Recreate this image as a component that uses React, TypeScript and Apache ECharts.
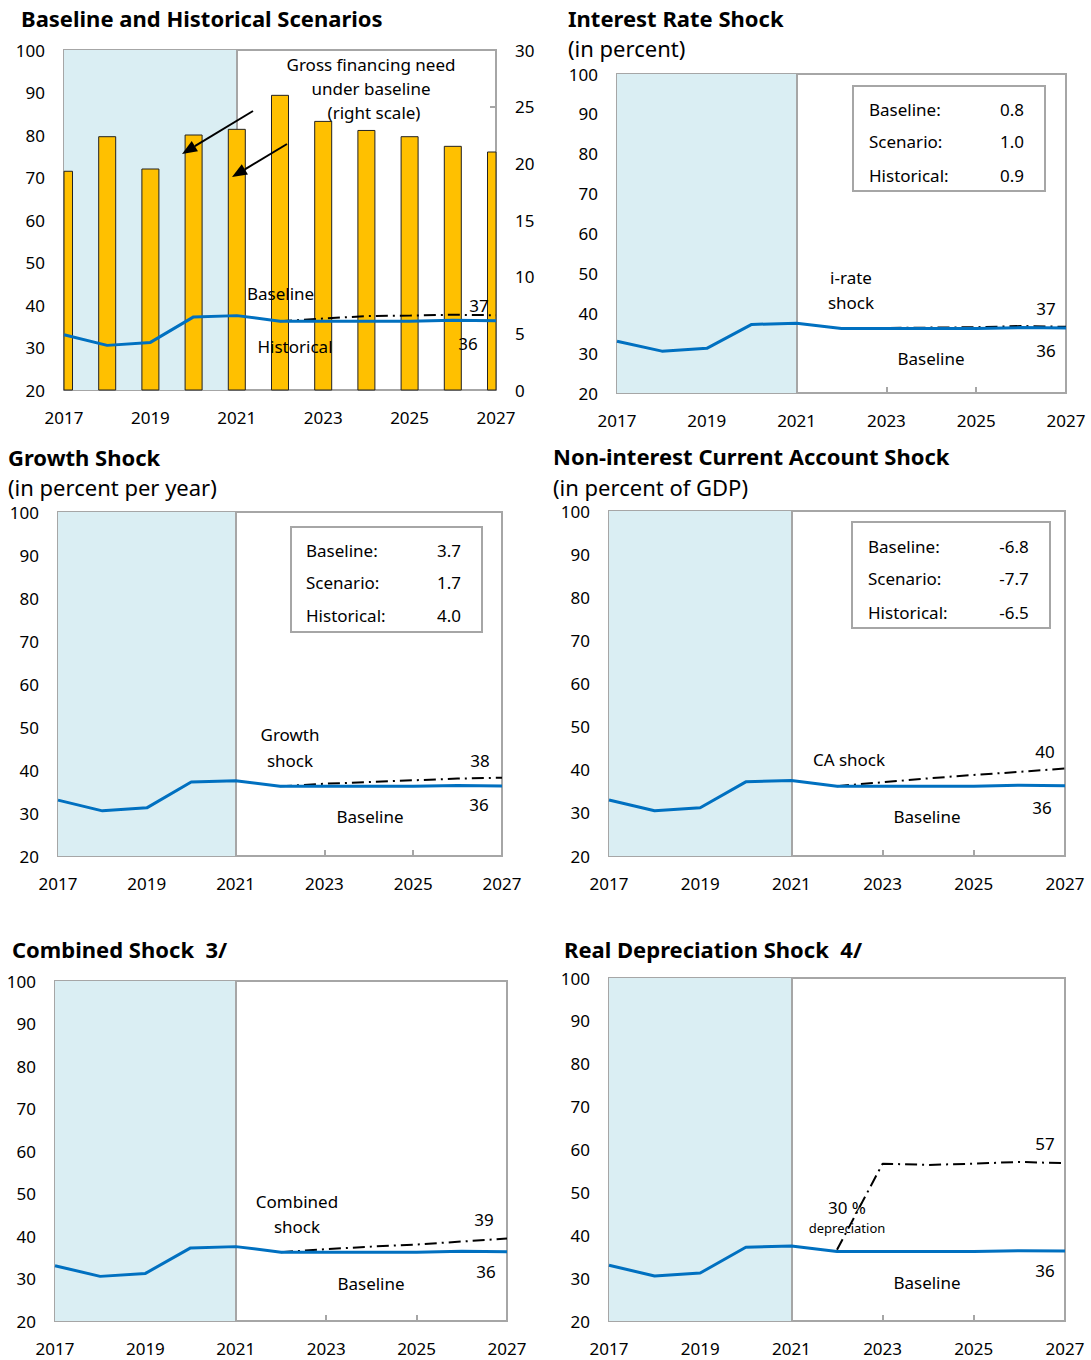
import React, { useEffect, useRef } from "react";
import * as echarts from "echarts";

// ---------------- DATA ----------------
const years = [2017, 2018, 2019, 2020, 2021, 2022, 2023, 2024, 2025, 2026, 2027];
const baseline = [33.0, 30.5, 31.2, 37.2, 37.5, 36.2, 36.2, 36.2, 36.2, 36.4, 36.3];
const grossFinancingNeed = [19.3, 22.35, 19.5, 22.5, 23.0, 26.0, 23.7, 22.9, 22.35, 21.5, 21.0];

const projYears = [2022, 2023, 2024, 2025, 2026, 2027];
const historical = [36.2, 36.8, 37.4, 37.5, 37.7, 37.6];
const irateShock = [36.2, 36.3, 36.4, 36.5, 36.8, 36.6];
const growthShock = [36.2, 36.8, 37.2, 37.6, 38.0, 38.2];
const caShock = [36.2, 37.1, 38.0, 38.8, 39.5, 40.3];
const combinedShock = [36.2, 36.9, 37.5, 38.0, 38.7, 39.4];
const deprShock = [36.6, 56.7, 56.4, 56.7, 57.1, 56.8];

const shadeFrom = 2017;
const shadeTo = 2021;

const yTicks = { min: 20, max: 100, interval: 10 };
const yRightTicks = { min: 0, max: 30, interval: 5 };
const xTicks = { min: 2017, max: 2027, interval: 2 };

const irateBox = [["Baseline:", "0.8"], ["Scenario:", "1.0"], ["Historical:", "0.9"]];
const growthBox = [["Baseline:", "3.7"], ["Scenario:", "1.7"], ["Historical:", "4.0"]];
const caBox = [["Baseline:", "-6.8"], ["Scenario:", "-7.7"], ["Historical:", "-6.5"]];

// ---------------- STYLE / LAYOUT ----------------
const FONT = '"Noto Sans", "DejaVu Sans", sans-serif';
const GRAY = "#A6A6A6";
const BLUE = "#0070C0";
const SHADE = "#DAEEF3";
const BAR = "#FFC000";
const BAR_W = 17;

const panels = [
  { grid: { left: 64, top: 50, width: 432, height: 340 }, shock: historical },
  { grid: { left: 617, top: 74, width: 449, height: 319 }, shock: irateShock },
  { grid: { left: 58, top: 512, width: 444, height: 344 }, shock: growthShock },
  { grid: { left: 609, top: 511, width: 456, height: 345 }, shock: caShock },
  { grid: { left: 55, top: 981, width: 452, height: 340 }, shock: combinedShock },
  { grid: { left: 609, top: 978, width: 456, height: 343 }, shock: deprShock },
];

function txt(text: string, x: number, y: number, o: any = {}) {
  return {
    type: "text",
    x,
    y,
    z: 50,
    silent: true,
    style: {
      text,
      fill: "#000",
      fontFamily: FONT,
      fontSize: o.size || 17,
      fontWeight: o.bold ? "bold" : "normal",
      align: o.align || "center",
      textAlign: o.align || "center",
      verticalAlign: "middle",
      textVerticalAlign: "middle",
    },
  };
}

function arrow(x1: number, y1: number, x2: number, y2: number) {
  const dx = x2 - x1, dy = y2 - y1;
  const len = Math.sqrt(dx * dx + dy * dy);
  const ux = dx / len, uy = dy / len;
  const px = -uy, py = ux;
  const hl = 15, hw = 6;
  const bx = x2 - ux * hl, by = y2 - uy * hl;
  return [
    { type: "line", z: 40, silent: true, shape: { x1, y1, x2: bx, y2: by }, style: { stroke: "#000", lineWidth: 2 } },
    {
      type: "polygon", z: 40, silent: true,
      shape: { points: [[x2, y2], [bx + px * hw, by + py * hw], [bx - px * hw, by - py * hw]] },
      style: { fill: "#000" },
    },
  ];
}

function box(x: number, y: number, w: number, h: number, rows: string[][], lx: number, vx: number, ys: number[]) {
  const els: any[] = [
    { type: "rect", z: 30, silent: true, shape: { x, y, width: w, height: h }, style: { fill: "#fff", stroke: GRAY, lineWidth: 2 } },
  ];
  rows.forEach((r, i) => {
    els.push(txt(r[0], lx, ys[i], { align: "left" }));
    els.push(txt(r[1], vx, ys[i], { align: "center" }));
  });
  return els;
}

export default function App() {
  const ref = useRef<HTMLDivElement>(null);
  useEffect(() => {
    const chart = echarts.init(ref.current!, null, { renderer: "svg" });

    const grids = panels.map((p) => ({
      ...p.grid,
      show: true,
      borderColor: GRAY,
      borderWidth: 2,
      backgroundColor: "transparent",
    }));

    const tick = { show: true, inside: true, length: 6, lineStyle: { color: GRAY, width: 2 } };
    const label = (margin: number) => ({
      color: "#000",
      fontSize: 17,
      fontFamily: FONT,
      margin,
      formatter: (v: number) => String(v),
    });

    const xAxis = panels.map((_, i) => ({
      type: "value",
      gridIndex: i,
      ...xTicks,
      axisLine: { show: false },
      axisTick: tick,
      axisLabel: label(19),
      splitLine: { show: false },
    }));

    const yAxis: any[] = panels.map((_, i) => ({
      type: "value",
      gridIndex: i,
      ...yTicks,
      axisLine: { show: false },
      axisTick: tick,
      axisLabel: label(19),
      splitLine: { show: false },
    }));
    yAxis.push({
      type: "value",
      gridIndex: 0,
      position: "right",
      ...yRightTicks,
      axisLine: { show: false },
      axisTick: tick,
      axisLabel: label(19),
      splitLine: { show: false },
    });

    const series: any[] = [];
    panels.forEach((p, i) => {
      series.push({
        type: "line",
        xAxisIndex: i,
        yAxisIndex: i,
        data: [[shadeFrom, yTicks.min], [shadeTo, yTicks.min]],
        symbol: "none",
        lineStyle: { opacity: 0, width: 0 },
        silent: true,
        z: 1,
        markArea: {
          silent: true,
          z: 1,
          itemStyle: { color: SHADE, borderWidth: 0 },
          data: [[{ xAxis: shadeFrom }, { xAxis: shadeTo }]],
        },
        markLine: {
          silent: true,
          z: 1,
          symbol: ["none", "none"],
          label: { show: false },
          lineStyle: { color: GRAY, width: 2, type: "solid" },
          data: [{ xAxis: shadeTo }],
        },
      });
      if (i === 0) {
        series.push({
          type: "custom",
          xAxisIndex: 0,
          yAxisIndex: 6,
          data: years.map((y, k) => [y, grossFinancingNeed[k]]),
          z: 2,
          renderItem: (params: any, api: any) => {
            const x = api.value(0);
            const v = api.value(1);
            const top = api.coord([x, v]);
            const bottom = api.coord([x, 0]);
            const rect = { x: top[0] - BAR_W / 2, y: top[1], width: BAR_W, height: bottom[1] - top[1] };
            const cs = params.coordSys;
            const clipped = echarts.graphic.clipRectByRect(rect, {
              x: cs.x, y: cs.y, width: cs.width, height: cs.height,
            });
            if (!clipped) return null;
            return {
              type: "rect",
              shape: clipped,
              style: { fill: BAR, stroke: "#222", lineWidth: 1 },
            };
          },
        });
      }
      series.push({
        type: "line",
        xAxisIndex: i,
        yAxisIndex: i,
        data: projYears.map((y, k) => [y, p.shock[k]]),
        symbol: "none",
        lineStyle: { color: "#000", width: 2, type: [12, 5, 2, 5] },
        z: 6,
      });
      series.push({
        type: "line",
        xAxisIndex: i,
        yAxisIndex: i,
        data: years.map((y, k) => [y, baseline[k]]),
        symbol: "none",
        lineStyle: { color: BLUE, width: 3 },
        z: 7,
      });
    });

    const T = 22;
    const graphic: any[] = [
      // Panel 1
      txt("Baseline and Historical Scenarios", 21, 18, { bold: true, size: T, align: "left" }),
      txt("Gross financing need", 371, 64),
      txt("under baseline", 371, 88),
      txt("(right scale)", 374, 112),
      ...arrow(253, 111, 182, 154),
      ...arrow(287, 144, 232, 177),
      txt("Baseline", 247, 293, { align: "left" }),
      txt("Historical", 295, 346),
      txt("37", 479, 305),
      txt("36", 468, 343),
      // Panel 2
      txt("Interest Rate Shock", 568, 18, { bold: true, size: T, align: "left" }),
      txt("(in percent)", 568, 48, { size: T, align: "left" }),
      ...box(853, 86, 192, 105, irateBox, 869, 1012, [109, 141, 175]),
      txt("i-rate", 851, 277),
      txt("shock", 851, 302),
      txt("37", 1046, 308),
      txt("36", 1046, 350),
      txt("Baseline", 931, 358),
      // Panel 3
      txt("Growth Shock", 8, 457, { bold: true, size: T, align: "left" }),
      txt("(in percent per year)", 8, 487, { size: T, align: "left" }),
      ...box(291, 527, 191, 105, growthBox, 306, 449, [550, 582, 615]),
      txt("Growth", 290, 734),
      txt("shock", 290, 760),
      txt("38", 480, 760),
      txt("36", 479, 804),
      txt("Baseline", 370, 816),
      // Panel 4
      txt("Non-interest Current Account Shock", 553, 456, { bold: true, size: T, align: "left" }),
      txt("(in percent of GDP)", 553, 487, { size: T, align: "left" }),
      ...box(852, 522, 198, 106, caBox, 868, 1014, [546, 578, 612]),
      txt("CA shock", 849, 759),
      txt("40", 1045, 751),
      txt("36", 1042, 807),
      txt("Baseline", 927, 816),
      // Panel 5
      txt("Combined Shock  3/", 12, 949, { bold: true, size: T, align: "left" }),
      txt("Combined", 297, 1201),
      txt("shock", 297, 1226),
      txt("39", 484, 1219),
      txt("36", 486, 1271),
      txt("Baseline", 371, 1283),
      // Panel 6
      txt("Real Depreciation Shock  4/", 564, 949, { bold: true, size: T, align: "left" }),
      txt("30 %", 847, 1207),
      txt("depreciation", 847, 1228, { size: 13 }),
      txt("57", 1045, 1143),
      txt("36", 1045, 1270),
      txt("Baseline", 927, 1282),
    ];

    chart.setOption({
      animation: false,
      backgroundColor: "#fff",
      textStyle: { fontFamily: FONT },
      grid: grids,
      xAxis,
      yAxis,
      series,
      graphic,
    });
    return () => chart.dispose();
  }, []);

  return (
    <div
      ref={ref}
      style={{ position: "absolute", left: 0, top: 0, width: 1091, height: 1360, background: "#fff" }}
    />
  );
}
